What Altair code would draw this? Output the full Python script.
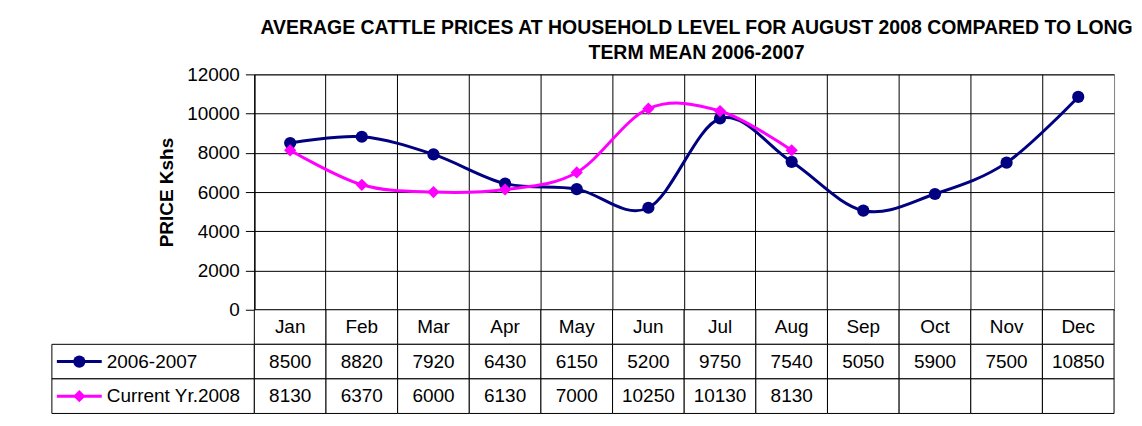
import altair as alt
import pandas as pd

months = ["Jan", "Feb", "Mar", "Apr", "May", "Jun", "Jul", "Aug", "Sep", "Oct", "Nov", "Dec"]
series_names = ["2006-2007", "Current Yr.2008"]
mean_2006_2007 = [8500, 8820, 7920, 6430, 6150, 5200, 9750, 7540, 5050, 5900, 7500, 10850]
current_2008 = [8130, 6370, 6000, 6130, 7000, 10250, 10130, 8130]
y_ticks = [0, 2000, 4000, 6000, 8000, 10000, 12000]
series_colors = ["#000080", "#FF00FF"]
series_shapes = ["circle", "diamond"]
title_lines = ["AVERAGE CATTLE PRICES AT HOUSEHOLD LEVEL FOR AUGUST 2008 COMPARED TO LONG",
               "TERM MEAN 2006-2007"]
y_title = "PRICE Kshs"

FONT = "Liberation Sans"
HDR = "hdr"

rows = []
for m, v in zip(months, mean_2006_2007):
    rows.append({"series": series_names[0], "month": m, "value": v})
for m, v in zip(months, current_2008):
    rows.append({"series": series_names[1], "month": m, "value": v})
df = pd.DataFrame(rows)

color_scale = alt.Scale(domain=series_names, range=series_colors)
shape_scale = alt.Scale(domain=series_names, range=series_shapes)
x_scale = alt.Scale(type="band", domain=months, paddingInner=0, paddingOuter=0)
row_scale = alt.Scale(type="band", domain=[HDR] + series_names, paddingInner=0, paddingOuter=0)

W_PLOT, H_PLOT = 862, 236
W_LEG, H_TAB = 203, 104

# ---- main line chart ----
base = alt.Chart(df).encode(
    x=alt.X("month:N", scale=x_scale, sort=months,
            axis=alt.Axis(title=None, labels=False, ticks=False, domain=False, grid=True,
                          gridColor="black", gridOpacity=1, gridWidth=1, bandPosition=0)),
    y=alt.Y("value:Q", scale=alt.Scale(domain=[0, 12000], nice=False),
            axis=alt.Axis(values=y_ticks, format="d", title=y_title, grid=True,
                          gridColor="black", gridOpacity=1, gridWidth=1,
                          tickSize=9, tickColor="black", domainColor="black",
                          labelFont=FONT, labelFontSize=19, labelColor="black", labelPadding=6,
                          titleFont=FONT, titleFontSize=19, titleFontWeight="bold",
                          titleColor="black", titlePadding=10)),
    color=alt.Color("series:N", scale=color_scale, legend=None),
)
lines = base.mark_line(strokeWidth=3, interpolate="cardinal")
points = base.mark_point(filled=True, opacity=1, size=150).encode(
    shape=alt.Shape("series:N", scale=shape_scale, legend=None))
top = alt.layer(lines, points).properties(
    width=W_PLOT, height=H_PLOT, view=alt.ViewConfig(stroke="#808080", strokeWidth=1))

# ---- spacer ----
spacer = alt.Chart(pd.DataFrame({"a": [0]})).mark_point(opacity=0).encode(
    x=alt.value(0), y=alt.value(0)).properties(
    width=W_LEG, height=H_PLOT, view=alt.ViewConfig(stroke="transparent"))

# ---- legend column ----
leg_df = pd.DataFrame({"series": series_names, "row": series_names})
leg_base = alt.Chart(leg_df).encode(
    y=alt.Y("row:N", scale=row_scale, axis=None))
leg_cells = leg_base.mark_rect(fill="white", stroke="black", strokeWidth=1)
leg_line = leg_base.mark_rule(strokeWidth=3).encode(
    x=alt.value(5), x2=alt.value(50),
    color=alt.Color("series:N", scale=color_scale, legend=None))
leg_pt = leg_base.mark_point(filled=True, opacity=1, size=150).encode(
    x=alt.value(27.5),
    color=alt.Color("series:N", scale=color_scale, legend=None),
    shape=alt.Shape("series:N", scale=shape_scale, legend=None))
leg_txt = leg_base.mark_text(align="left", baseline="middle", font=FONT, fontSize=19,
                             color="black").encode(x=alt.value(55), text="series:N")
legend_col = alt.layer(leg_cells, leg_line, leg_pt, leg_txt).properties(
    width=W_LEG, height=H_TAB, view=alt.ViewConfig(stroke="transparent"))

# ---- data table ----
cells = []
for m in months:
    cells.append({"row": HDR, "month": m, "label": m})
for m, v in zip(months, mean_2006_2007):
    cells.append({"row": series_names[0], "month": m, "label": str(v)})
for i, m in enumerate(months):
    lab = str(current_2008[i]) if i < len(current_2008) else ""
    cells.append({"row": series_names[1], "month": m, "label": lab})
cell_df = pd.DataFrame(cells)
tab_base = alt.Chart(cell_df).encode(
    x=alt.X("month:N", scale=x_scale, sort=months, axis=None),
    y=alt.Y("row:N", scale=row_scale, axis=None))
tab_cells = tab_base.mark_rect(fill="white", stroke="black", strokeWidth=1)
tab_txt = tab_base.mark_text(align="center", baseline="middle", font=FONT, fontSize=19,
                             color="black").encode(text="label:N")
table = alt.layer(tab_cells, tab_txt).properties(
    width=W_PLOT, height=H_TAB, view=alt.ViewConfig(stroke="transparent"))

chart = alt.concat(spacer, top, legend_col, table, columns=2, spacing=0, bounds="flush").properties(
    title=alt.TitleParams(text=title_lines, anchor="middle", dx=115, font=FONT, fontSize=19.5,
                          fontWeight="bold", color="black", lineHeight=25, offset=1),
    padding={"left": 40, "top": 10, "right": 0, "bottom": 0},
    background="white",
).configure_view(stroke="transparent")

chart.save("out.html", embed_options={"renderer": "svg", "actions": False})
